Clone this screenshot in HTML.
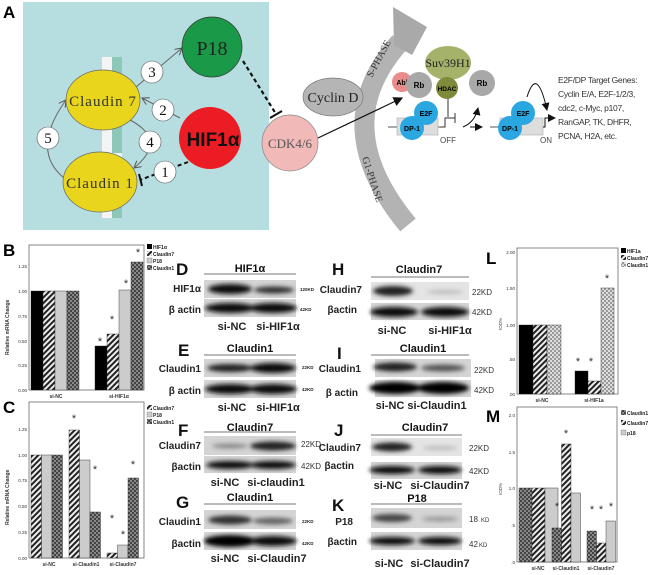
<!DOCTYPE html>
<html><head><meta charset="utf-8"><style>
html,body{margin:0;padding:0;background:#fff;}
svg{display:block;font-family:"Liberation Sans",sans-serif;}
.ser{font-family:"Liberation Serif",serif;}
.b{font-weight:bold;}
</style></head><body>
<svg width="650" height="575" viewBox="0 0 650 575" xmlns="http://www.w3.org/2000/svg">
<defs>
<pattern id="hat" width="4" height="4" patternUnits="userSpaceOnUse" patternTransform="rotate(45)"><rect width="4" height="4" fill="#eee"/><rect width="2" height="4" fill="#222"/></pattern>
<pattern id="chk" width="4" height="4" patternUnits="userSpaceOnUse"><rect width="4" height="4" fill="#888"/><rect width="2" height="2" fill="#444"/><rect x="2" y="2" width="2" height="2" fill="#444"/></pattern>
<pattern id="chkl" width="4" height="4" patternUnits="userSpaceOnUse"><rect width="4" height="4" fill="#ddd"/><rect width="2" height="2" fill="#999"/><rect x="2" y="2" width="2" height="2" fill="#999"/></pattern>
<filter id="bl" x="-20%" y="-50%" width="140%" height="200%"><feGaussianBlur stdDeviation="2.2"/></filter>
<marker id="ar" markerWidth="8" markerHeight="8" refX="7" refY="4" orient="auto"><path d="M0,0 L7,4 L0,8" fill="none" stroke="#555" stroke-width="1"/></marker>
<marker id="ak" markerWidth="8" markerHeight="8" refX="7" refY="4" orient="auto"><path d="M0,0 L8,4 L0,8z" fill="#111"/></marker>
</defs>

<!-- Panel A -->
<text x="3" y="18" font-size="17" class="b">A</text>
<rect x="23" y="2" width="246" height="228" fill="#b6dde0"/>
<rect x="102" y="57" width="20" height="161" fill="#f4f4f4"/>
<g fill="#8cc7b8"><rect x="112" y="57" width="10" height="25"/><rect x="112" y="118" width="10" height="35"/><rect x="112" y="200" width="10" height="18"/></g>
<path d="M136,87 L182,48" stroke="#666" fill="none" marker-end="url(#ar)"/>
<path d="M180,118 L142,98" stroke="#666" fill="none" marker-end="url(#ar)"/>
<path d="M130,120 Q168,140 134,168" stroke="#666" fill="none" marker-end="url(#ar)"/>
<path d="M64,178 Q30,150 66,100" stroke="#666" fill="none" marker-end="url(#ar)"/>
<path d="M188,162 L140,180" stroke="#111" stroke-width="2" stroke-dasharray="4,3" fill="none"/>
<line x1="139" y1="174" x2="142" y2="186" stroke="#111" stroke-width="2"/>
<path d="M243,61 L276,114" stroke="#111" stroke-width="2.2" stroke-dasharray="4,3"/>
<line x1="270" y1="118" x2="282" y2="111" stroke="#111" stroke-width="2"/>
<circle cx="212" cy="47" r="30" fill="#1a9a48" stroke="#333" stroke-width=".7"/>
<text x="212" y="55" font-size="20" class="ser" text-anchor="middle" fill="#222">P18</text>
<ellipse cx="103" cy="100" rx="37" ry="30" fill="#e8d51c" stroke="#666" stroke-width=".7"/>
<text x="103" y="106" font-size="15" class="ser" text-anchor="middle" fill="#333" letter-spacing="1">Claudin 7</text>
<ellipse cx="100" cy="182" rx="37" ry="30" fill="#e8d51c" stroke="#666" stroke-width=".7"/>
<text x="100" y="188" font-size="15" class="ser" text-anchor="middle" fill="#333" letter-spacing="1">Claudin 1</text>
<circle cx="210" cy="138" r="31" fill="#ec1c24"/>
<text x="213" y="146" font-size="19" class="b" text-anchor="middle" fill="#111">HIF1α</text>
<g stroke="#555" stroke-width=".6" fill="#fff">
<circle cx="152" cy="72" r="11"/><circle cx="163" cy="110" r="11"/><circle cx="150" cy="142" r="11"/><circle cx="48" cy="138" r="11"/><circle cx="165" cy="172" r="11"/>
</g>
<g font-size="15" class="ser" text-anchor="middle" fill="#111">
<text x="152" y="77">3</text><text x="163" y="115">2</text><text x="150" y="147">4</text><text x="48" y="143">5</text><text x="165" y="177">1</text></g>
<path d="M400,42 Q325,125 408,225" stroke="#b3b3b3" stroke-width="20" fill="none"/>
<polygon points="393,7 427,27 412,55 394,45" fill="#a9a9a9"/>
<text transform="translate(372,78) rotate(-62)" font-size="10" class="ser" fill="#333">S-PHASE</text>
<text transform="translate(362,158) rotate(72)" font-size="10" class="ser" fill="#333">G1-PHASE</text>
<path d="M318,138 L402,98" stroke="#111" stroke-width="1.2" marker-end="url(#ak)"/>
<circle cx="290" cy="143" r="28" fill="#f2b9b9" stroke="#888" stroke-width=".7"/>
<text x="290" y="148" font-size="13" class="ser" text-anchor="middle" fill="#555">CDK4/6</text>
<ellipse cx="333" cy="97" rx="30" ry="19" fill="#b5b5b5" stroke="#777" stroke-width=".7"/>
<text x="333" y="102" font-size="14" class="ser" text-anchor="middle" fill="#222">Cyclin D</text>
<line x1="388" y1="127" x2="445" y2="127" stroke="#555"/>
<rect x="397" y="118" width="41" height="17" fill="#ddd" stroke="#aaa" stroke-width=".6"/>
<path d="M440,127 L445,127 L445,118 L455,118" stroke="#333" fill="none"/><line x1="455" y1="113" x2="455" y2="123" stroke="#333"/>
<line x1="448" y1="95" x2="448" y2="117" stroke="#333"/>
<text x="448" y="143" font-size="8" text-anchor="middle" fill="#444">OFF</text>
<path d="M463,127 Q475,122 478,108" stroke="#111" fill="none" marker-end="url(#ak)"/>
<line x1="470" y1="127" x2="482" y2="127" stroke="#111" marker-end="url(#ak)"/>
<ellipse cx="448" cy="63" rx="23" ry="17" fill="#a5b26a"/>
<text x="448" y="67" font-size="12" class="ser" text-anchor="middle" fill="#222">Suv39H1</text>
<circle cx="402" cy="82" r="10" fill="#e88c8c"/><text x="402" y="85" font-size="7" text-anchor="middle" class="b">Abl</text>
<circle cx="447" cy="88" r="11" fill="#7f8a3a"/><text x="447" y="91" font-size="6.5" text-anchor="middle" class="b">HDAC</text>
<circle cx="419" cy="85" r="13" fill="#a8a8a8"/><text x="419" y="88" font-size="8" text-anchor="middle" class="b">Rb</text>
<circle cx="426" cy="113" r="12" fill="#2aa6e0"/><text x="426" y="116" font-size="7" text-anchor="middle" class="b">E2F</text>
<circle cx="412" cy="128" r="12" fill="#2aa6e0"/><text x="412" y="131" font-size="7" text-anchor="middle" class="b">DP-1</text>
<circle cx="482" cy="83" r="13" fill="#a8a8a8"/><text x="482" y="86" font-size="8" text-anchor="middle" class="b">Rb</text>
<line x1="490" y1="127" x2="500" y2="127" stroke="#555"/>
<rect x="500" y="118" width="43" height="17" fill="#ddd" stroke="#aaa" stroke-width=".6"/>
<path d="M543,127 L545,127 L545,118 L555,118" stroke="#111" fill="none" marker-end="url(#ak)"/>
<path d="M527,97 Q537,65 547,110" stroke="#111" fill="none" marker-end="url(#ak)"/>
<circle cx="523" cy="113" r="12" fill="#2aa6e0"/><text x="523" y="116" font-size="7" text-anchor="middle" class="b">E2F</text>
<circle cx="510" cy="128" r="12" fill="#2aa6e0"/><text x="510" y="131" font-size="7" text-anchor="middle" class="b">DP-1</text>
<text x="546" y="143" font-size="8" text-anchor="middle" fill="#444">ON</text>
<g font-size="8.5" fill="#333" letter-spacing="-0.3">
<text x="558" y="83">E2F/DP Target Genes:</text><text x="558" y="97">Cyclin E/A, E2F-1/2/3,</text><text x="558" y="111">cdc2, c-Myc, p107,</text><text x="558" y="125">RanGAP, TK, DHFR,</text><text x="558" y="139">PCNA, H2A, etc.</text></g>

<!-- Panel B -->
<text x="3" y="256" font-size="17" class="b">B</text>
<rect x="29" y="245" width="115" height="145" fill="#fff" stroke="#555" stroke-width=".7"/>
<g font-size="4.5" fill="#333" text-anchor="end"><text x="27" y="268">1.25</text><text x="27" y="293">1.00</text><text x="27" y="318">0.75</text><text x="27" y="343">0.50</text><text x="27" y="367">0.25</text><text x="27" y="392">0.00</text></g>
<text transform="translate(9,355) rotate(-90)" font-size="5" class="b" fill="#333">Relative mRNA Change</text>
<g stroke="#222" stroke-width=".4">
<rect x="31" y="291" width="12" height="99" fill="#000"/><rect x="43" y="291" width="12" height="99" fill="url(#hat)"/><rect x="55" y="291" width="12" height="99" fill="#ccc"/><rect x="67" y="291" width="12" height="99" fill="url(#chk)"/>
<rect x="95" y="346" width="12" height="44" fill="#000"/><rect x="107" y="334" width="12" height="56" fill="url(#hat)"/><rect x="119" y="290" width="12" height="100" fill="#ccc"/><rect x="131" y="262" width="12" height="128" fill="url(#chk)"/></g>
<g font-size="11" fill="#333" text-anchor="middle"><text x="100" y="345">*</text><text x="112" y="323">*</text><text x="126" y="287">*</text><text x="138" y="256">*</text></g>
<g font-size="5" class="b" fill="#333" text-anchor="middle"><text x="56" y="398">si-NC</text><text x="119" y="398">si-HIF1α</text></g>
<g font-size="5" class="b" fill="#222"><rect x="147" y="244" width="5" height="5" fill="#000"/><text x="153" y="249">HIF1α</text><rect x="147" y="251" width="5" height="5" fill="url(#hat)"/><text x="153" y="256">Claudin7</text><rect x="147" y="258" width="5" height="5" fill="#ccc" stroke="#555" stroke-width=".3"/><text x="153" y="263">P18</text><rect x="147" y="265" width="5" height="5" fill="url(#chk)"/><text x="153" y="270">Claudin1</text></g>

<!-- Panel C -->
<text x="3" y="413" font-size="17" class="b">C</text>
<rect x="29" y="402" width="115" height="156" fill="#fff" stroke="#555" stroke-width=".7"/>
<g font-size="4.5" fill="#333" text-anchor="end"><text x="27" y="431">1.25</text><text x="27" y="457">1.00</text><text x="27" y="482">0.75</text><text x="27" y="508">0.50</text><text x="27" y="534">0.25</text><text x="27" y="560">0.00</text></g>
<text transform="translate(9,525) rotate(-90)" font-size="5" class="b" fill="#333">Relative mRNA Change</text>
<g stroke="#222" stroke-width=".4">
<rect x="31" y="455" width="10.5" height="103" fill="url(#hat)"/><rect x="41.5" y="455" width="10.5" height="103" fill="#ccc"/><rect x="52" y="455" width="10.5" height="103" fill="url(#chk)"/>
<rect x="69" y="430" width="10.5" height="128" fill="url(#hat)"/><rect x="79.5" y="460" width="10.5" height="98" fill="#ccc"/><rect x="90" y="512" width="10.5" height="46" fill="url(#chk)"/>
<rect x="107" y="553" width="10.5" height="5" fill="url(#hat)"/><rect x="117.5" y="545" width="10.5" height="13" fill="#ccc"/><rect x="128" y="478" width="10.5" height="80" fill="url(#chk)"/></g>
<g font-size="11" fill="#333" text-anchor="middle"><text x="74" y="422">*</text><text x="95" y="473">*</text><text x="112" y="522">*</text><text x="123" y="538">*</text><text x="133" y="468">*</text></g>
<g font-size="5" class="b" fill="#333" text-anchor="middle"><text x="49" y="566">si-NC</text><text x="86" y="566">si-Claudin1</text><text x="123" y="566">si-Claudin7</text></g>
<g font-size="5" class="b" fill="#222"><rect x="147" y="405" width="5" height="5" fill="url(#hat)"/><text x="153" y="410">Claudin7</text><rect x="147" y="412" width="5" height="5" fill="#ccc" stroke="#555" stroke-width=".3"/><text x="153" y="417">P18</text><rect x="147" y="419" width="5" height="5" fill="url(#chk)"/><text x="153" y="424">Claudin1</text></g>

<!-- Western blots -->
<g class="b" fill="#111">
<g font-size="17"><text x="176" y="275">D</text><text x="178" y="356">E</text><text x="178" y="436">F</text><text x="176" y="508">G</text><text x="332" y="275">H</text><text x="337" y="359">I</text><text x="334" y="436">J</text><text x="332" y="511">K</text></g>
<g font-size="11" text-anchor="middle"><text x="250" y="272">HIF1α</text><text x="250" y="352">Claudin1</text><text x="250" y="431">Claudin7</text><text x="250" y="501">Claudin1</text><text x="419" y="273">Claudin7</text><text x="423" y="352">Claudin1</text><text x="425" y="431">Claudin7</text><text x="417" y="502">P18</text></g>
</g>
<g stroke="#777" stroke-width="1"><line x1="204" y1="274" x2="296" y2="274"/><line x1="204" y1="355" x2="296" y2="355"/><line x1="204" y1="432" x2="296" y2="432"/><line x1="204" y1="504" x2="296" y2="504"/><line x1="371" y1="277" x2="469" y2="277"/><line x1="371" y1="355" x2="469" y2="355"/><line x1="371" y1="435" x2="462" y2="435"/><line x1="371" y1="504" x2="462" y2="504"/></g>
<g fill="#d4d4d4"><rect x="204" y="280" width="92" height="18"/><rect x="204" y="299" width="92" height="18"/><rect x="204" y="359" width="92" height="18"/><rect x="204" y="380" width="92" height="18"/><rect x="204" y="436" width="92" height="19"/><rect x="204" y="456" width="92" height="17"/><rect x="204" y="510" width="92" height="19"/><rect x="204" y="532" width="92" height="18"/>
<rect x="371" y="282" width="98" height="18" fill="#e4e4e4"/><rect x="371" y="303" width="98" height="17"/><rect x="375" y="359" width="96" height="18"/><rect x="375" y="380" width="96" height="17"/><rect x="371" y="438" width="91" height="18" fill="#e4e4e4"/><rect x="371" y="462" width="91" height="17"/><rect x="371" y="508" width="91" height="20"/><rect x="371" y="532" width="91" height="18"/></g>
<g filter="url(#bl)">
<ellipse cx="230" cy="289" rx="22" ry="5" fill="#111"/><ellipse cx="274" cy="290" rx="20" ry="3.5" fill="#333"/>
<ellipse cx="230" cy="308" rx="25" ry="5" fill="#111"/><ellipse cx="273" cy="308" rx="24" ry="5" fill="#111"/>
<ellipse cx="230" cy="368" rx="23" ry="4" fill="#222"/><ellipse cx="273" cy="368" rx="23" ry="5" fill="#111"/>
<ellipse cx="230" cy="389" rx="25" ry="5" fill="#111"/><ellipse cx="273" cy="389" rx="24" ry="5" fill="#111"/>
<ellipse cx="230" cy="446" rx="18" ry="2.5" fill="#888"/><ellipse cx="273" cy="446" rx="23" ry="4.5" fill="#222"/>
<ellipse cx="230" cy="465" rx="24" ry="4" fill="#111"/><ellipse cx="273" cy="465" rx="23" ry="4" fill="#111"/>
<ellipse cx="230" cy="520" rx="22" ry="4.5" fill="#333"/><ellipse cx="273" cy="521" rx="20" ry="3.5" fill="#666"/>
<ellipse cx="230" cy="541" rx="26" ry="6" fill="#000"/><ellipse cx="273" cy="541" rx="24" ry="5" fill="#111"/>
<ellipse cx="393" cy="291" rx="20" ry="5" fill="#222"/><ellipse cx="445" cy="292" rx="18" ry="2" fill="#bbb"/>
<ellipse cx="394" cy="312" rx="24" ry="5" fill="#111"/><ellipse cx="445" cy="312" rx="24" ry="5" fill="#111"/>
<ellipse cx="395" cy="367" rx="22" ry="4.5" fill="#222"/><ellipse cx="443" cy="368" rx="22" ry="3.5" fill="#555"/>
<ellipse cx="395" cy="388" rx="26" ry="6" fill="#000"/><ellipse cx="443" cy="388" rx="26" ry="6" fill="#000"/>
<ellipse cx="392" cy="447" rx="20" ry="4.5" fill="#222"/><ellipse cx="440" cy="448" rx="18" ry="2" fill="#bbb"/>
<ellipse cx="392" cy="470" rx="23" ry="4" fill="#111"/><ellipse cx="440" cy="470" rx="22" ry="4" fill="#111"/>
<ellipse cx="392" cy="518" rx="20" ry="4" fill="#444"/><ellipse cx="440" cy="519" rx="18" ry="2.5" fill="#999"/>
<ellipse cx="392" cy="541" rx="23" ry="4" fill="#111"/><ellipse cx="440" cy="541" rx="22" ry="4" fill="#111"/>
</g>
<g class="b" fill="#222" font-size="10" text-anchor="end">
<text x="201" y="292">HIF1α</text><text x="201" y="313">β actin</text><text x="201" y="372">Claudin1</text><text x="201" y="394">β actin</text><text x="201" y="449">Claudin7</text><text x="201" y="470">βactin</text><text x="201" y="525">Claudin1</text><text x="201" y="547">βactin</text>
<text x="362" y="293">Claudin7</text><text x="357" y="313">βactin</text><text x="361" y="372">Claudin1</text><text x="358" y="396">β actin</text><text x="361" y="451">Claudin7</text><text x="354" y="469">βactin</text><text x="353" y="525">P18</text><text x="357" y="545">βactin</text></g>
<g class="b" fill="#222" font-size="4.5"><text x="300" y="291">120KD</text><text x="300" y="311">42KD</text><text x="302" y="369">22KD</text><text x="302" y="391">42KD</text><text x="302" y="523">22KD</text><text x="302" y="545">42KD</text></g>
<g fill="#333" font-size="8"><text x="301" y="447">22KD</text><text x="301" y="469">42KD</text><text x="472" y="295">22KD</text><text x="472" y="315">42KD</text><text x="474" y="373">22KD</text><text x="474" y="393">42KD</text><text x="469" y="451">22KD</text><text x="469" y="474">42KD</text><text x="469" y="522">18</text><text x="481" y="522" font-size="6">KD</text><text x="469" y="547">42</text><text x="479" y="547" font-size="6">KD</text></g>
<g class="b" fill="#222" font-size="11" text-anchor="middle">
<text x="232" y="330">si-NC</text><text x="278" y="330">si-HIF1α</text><text x="232" y="411">si-NC</text><text x="278" y="411">si-HIF1α</text><text x="225" y="486">si-NC</text><text x="276" y="486">si-claudin1</text><text x="225" y="562">si-NC</text><text x="277" y="562">si-Claudin7</text>
<text x="392" y="334">si-NC</text><text x="450" y="334">si-HIF1α</text><text x="390" y="409">si-NC</text><text x="437" y="409">si-Claudin1</text><text x="388" y="489">si-NC</text><text x="440" y="489">si-Claudin7</text><text x="389" y="567">si-NC</text><text x="440" y="567">si-Claudin7</text></g>

<!-- Panel L -->
<text x="486" y="264" font-size="17" class="b">L</text>
<rect x="517" y="248" width="101" height="146" fill="#fff" stroke="#555" stroke-width=".7"/>
<g font-size="4.5" fill="#333" text-anchor="end"><text x="515" y="254">2.00</text><text x="515" y="290">1.50</text><text x="515" y="327">1.00</text><text x="515" y="361">.50</text><text x="515" y="396">.00</text></g>
<text transform="translate(502,330) rotate(-90)" font-size="4.5" fill="#333">IOD%</text>
<g stroke="#222" stroke-width=".4">
<rect x="519" y="325" width="14" height="69" fill="#000"/><rect x="533" y="325" width="14" height="69" fill="url(#hat)"/><rect x="547" y="325" width="14" height="69" fill="url(#chkl)"/>
<rect x="575" y="371" width="13" height="23" fill="#000"/><rect x="588" y="381" width="13" height="13" fill="url(#hat)"/><rect x="601" y="288" width="13" height="106" fill="url(#chkl)"/></g>
<g font-size="11" fill="#333" text-anchor="middle"><text x="578" y="365">*</text><text x="591" y="365">*</text><text x="607" y="282">*</text></g>
<g font-size="5" class="b" fill="#333" text-anchor="middle"><text x="542" y="402">si-NC</text><text x="594" y="402">si-HIF1a</text></g>
<g font-size="5" class="b" fill="#222"><rect x="621" y="248" width="5" height="5" fill="#000"/><text x="627" y="253">HIF1a</text><rect x="621" y="255" width="5" height="5" fill="url(#hat)"/><text x="627" y="260">Claudin7</text><rect x="621" y="262" width="5" height="5" fill="url(#chkl)"/><text x="627" y="267">Claudin1</text></g>

<!-- Panel M -->
<text x="486" y="422" font-size="17" class="b">M</text>
<rect x="517" y="407" width="100" height="155" fill="#fff" stroke="#555" stroke-width=".7"/>
<g font-size="4.5" fill="#333" text-anchor="end"><text x="515" y="417">2.0</text><text x="515" y="454">1.5</text><text x="515" y="490">1.0</text><text x="515" y="527">.5</text><text x="515" y="564">.0</text></g>
<text transform="translate(502,495) rotate(-90)" font-size="4.5" fill="#333">IOD%</text>
<g stroke="#222" stroke-width=".4">
<rect x="519" y="488" width="13" height="74" fill="url(#chk)"/><rect x="532" y="488" width="13" height="74" fill="url(#hat)"/><rect x="545" y="488" width="13" height="74" fill="#ccc"/>
<rect x="552" y="528" width="9.5" height="34" fill="url(#chk)"/><rect x="561.5" y="444" width="9.5" height="118" fill="url(#hat)"/><rect x="571" y="493" width="9.5" height="69" fill="#ccc"/>
<rect x="587" y="531" width="9.5" height="31" fill="url(#chk)"/><rect x="596.5" y="543" width="9.5" height="19" fill="url(#hat)"/><rect x="606" y="521" width="9.5" height="41" fill="#ccc"/></g>
<g font-size="11" fill="#333" text-anchor="middle"><text x="557" y="510">*</text><text x="566" y="437">*</text><text x="592" y="513">*</text><text x="601" y="513">*</text><text x="611" y="510">*</text></g>
<g font-size="5" class="b" fill="#333" text-anchor="middle"><text x="538" y="570">si-NC</text><text x="566" y="570">si-Claudin1</text><text x="601" y="570">si-Claudin7</text></g>
<g font-size="5" class="b" fill="#222"><rect x="621" y="410" width="5" height="5" fill="url(#chk)"/><text x="627" y="415">Claudin1</text><rect x="621" y="420" width="5" height="5" fill="url(#hat)"/><text x="627" y="425">Claudin7</text><rect x="621" y="430" width="5" height="5" fill="#ccc" stroke="#555" stroke-width=".3"/><text x="627" y="435">p18</text></g>
</svg>
</body></html>
